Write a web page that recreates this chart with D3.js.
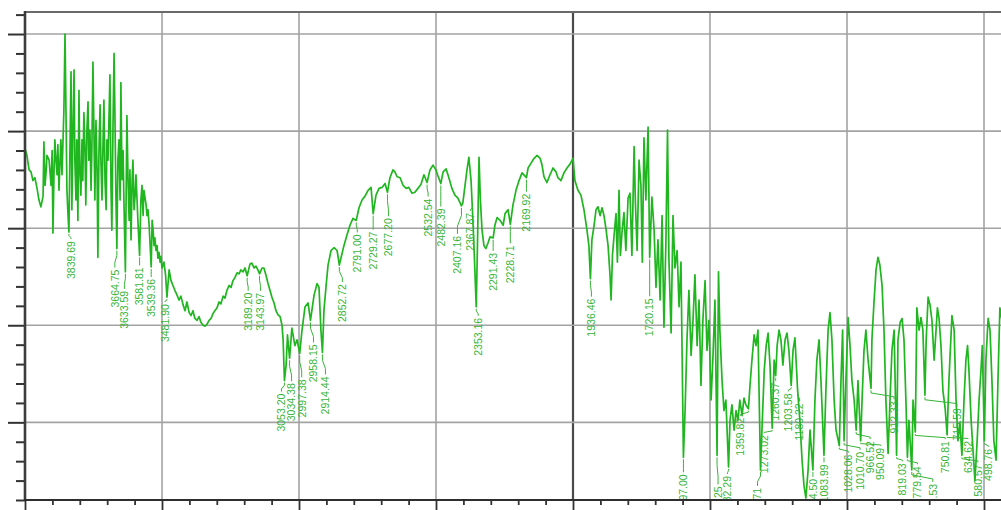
<!DOCTYPE html>
<html>
<head>
<meta charset="utf-8">
<script src="https://cdn.jsdelivr.net/npm/d3@7"></script>
<style>
  html, body { margin: 0; padding: 0; background: #fff; overflow: hidden; }
  svg { display: block; }
</style>
</head>
<body>
<svg id="chart" width="1001" height="510"></svg>
<script>
// IR spectrum: wavenumber (cm-1) against transmittance (%T)
const wavenumber = [
  4000,3993,3985,3978,3971,3964,3956,3949,3942,3934,3931,3927,3923,3920,3912,3905,3901,3898,3894,3891,
  3887,3883,3880,3876,3872,3869,3865,3858,3854,3850,3847,3843,3839.69,3836,3832,3829,3825,3821,3818,3814,
  3811,3807,3803,3800,3796,3792,3789,3785,3781,3778,3774,3770,3767,3763,3759,3756,3752,3748,3745,3741,
  3737,3734,3730,3726,3723,3719,3715,3712,3708,3704,3701,3697,3690,3686,3683,3679,3675,3672,3668,3664.75,
  3661,3657,3653,3650,3646,3642,3639,3633.59,3628,3624,3620,3617,3613,3609,3606,3602,3598,3595,3591,3588,
  3581.81,3577,3573,3569,3566,3558,3555,3551,3547,3539.36,3536,3533,3529,3526,3522,3518,3515,3511,3507,3504,
  3500,3493,3487,3481.90,3474,3467,3460,3453,3445,3438,3431,3423,3416,3409,3401,3394,3387,3380,3372,3365,
  3358,3350,3343,3336,3328,3321,3314,3307,3299,3292,3285,3277,3270,3263,3255,3248,3241,3234,3226,3219,
  3212,3204,3197,3189.20,3179,3172,3164,3157,3150,3143.97,3135,3128,3120,3113,3106,3099,3091,3084,3077,3069,
  3062,3058,3053.20,3047,3042,3034.38,3026,3015,3007,2997.38,2989,2978,2967,2958.15,2945,2934,2927,2920,2914.44,2909,
  2901,2894,2883,2872,2861,2852.72,2847,2836,2825,2814,2803,2791.00,2781,2770,2759,2748,2737,2729.27,2719,2708,
  2697,2686,2677.20,2668,2657,2650,2642,2631,2620,2609,2599,2588,2577,2566,2555,2544,2532.54,2522,2511,2500,
  2493,2482.39,2474,2463,2453,2442,2431,2420,2407.16,2402,2394,2387,2380,2372,2367.87,2363,2353.16,2349,2343,2338,
  2332,2325,2318,2310,2303,2291.43,2285,2277,2266,2255,2248,2237,2228.71,2219,2208,2197,2186,2169.92,2164,2153,
  2142,2131,2120,2113,2106,2095,2084,2073,2062,2055,2044,2033,2022,2011,2000,1993,1982,1971,1960,1949,
  1942,1936.46,1931,1923,1916,1909,1901,1894,1887,1880,1872,1865,1861,1856,1850,1843,1838,1832,1827,1821,
  1814,1807,1799,1792,1785,1777,1772,1766,1759,1752,1747,1741,1734,1726,1720.15,1712,1704,1697,1690,1682,
  1675,1668,1661,1655,1650,1642,1635,1628,1620,1613,1606,1597.00,1591,1584,1577,1569,1562,1555,1547,1540,
  1533,1526,1518,1511,1504,1496,1489,1482,1474.25,1469,1464,1456,1449,1442,1432.29,1427,1420,1412,1405,1398,
  1391,1383,1376,1369,1359.82,1354,1347,1339,1332,1325,1315.71,1309,1302,1295,1288,1281,1273.02,1266,1260.37,1255,
  1248,1241,1234,1226,1219,1212,1203.58,1197,1190,1180.22,1172,1164,1157,1150,1142,1135,1124.50,1117,1110,1102,
  1095,1083.99,1077,1069,1062,1055,1047,1040,1028.06,1022,1016,1010.70,1004,996,989,982,974,966.52,960,950.09,
  945,938,931,923,912.33,909,901,894,887,880,872,865,858,850,843,836,828,819.03,814,806,
  799,792,785,779.54,774,763.53,759,750.81,745,737,730,723,715.59,711,704,697,690,682,675,670,
  664,657,650,642,634.62,628,617,609,602,595,588,580.57,573,566,560,555,547,540,533,525,
  518,511,506,498.76,493,485,478,471,464,456,449,442,434,423,412,401
];

const transmittance = [
  88.2,87.5,86.0,85.8,84.9,85.2,84.1,82.9,82.2,83.3,88.9,84.4,85.8,87.5,87.0,84.4,88.0,79.5,86.0,89.1,
  87.0,85.5,88.6,83.9,87.0,89.1,85.5,92.2,100.0,91.1,84.0,81.3,79.6,88.0,96.1,81.9,90.1,96.3,87.0,82.9,
  89.1,80.8,94.2,86.0,83.4,89.1,84.9,91.9,88.0,82.4,90.1,93.0,87.0,90.1,83.9,88.0,97.1,89.1,82.9,91.1,
  86.0,77.0,88.0,92.7,87.0,82.9,89.1,93.2,84.9,81.9,89.1,87.0,95.8,83.9,79.8,90.1,98.0,92.2,82.9,77.9,
  87.0,89.1,82.9,95.0,85.0,88.0,82.9,75.5,91.6,85.0,80.8,86.0,78.8,85.0,87.0,81.9,83.4,85.5,82.9,80.8,
  77.2,82.9,84.4,81.3,83.9,82.4,81.3,81.9,80.3,76.0,80.8,80.0,78.2,79.0,77.7,78.2,76.9,77.5,76.5,77.1,
  75.9,76.5,75.2,72.9,75.7,74.6,74.1,73.6,73.1,72.6,73.0,72.1,71.5,72.4,71.3,71.0,71.5,70.7,70.5,70.9,
  70.3,70.0,69.9,70.1,70.5,70.7,71.2,71.5,71.8,72.4,72.2,73.0,72.8,73.6,74.1,73.9,74.6,74.9,75.4,75.3,
  75.7,75.5,75.9,75.1,76.3,76.4,75.9,76.1,75.7,75.3,75.9,75.9,75.1,74.3,73.6,72.9,72.3,71.5,71.1,70.9,
  70.0,68.5,64.3,65.9,69.0,66.6,69.7,67.9,68.5,67.1,69.5,71.9,72.3,70.5,73.1,74.3,73.9,69.5,67.2,71.5,
  74.1,76.2,77.7,78.0,77.7,76.2,76.9,78.2,79.3,80.3,81.0,80.8,82.1,82.9,83.3,83.9,84.2,81.5,83.4,84.1,
  84.2,84.6,83.7,85.2,86.0,85.8,85.3,85.2,84.4,84.1,84.2,83.6,83.7,84.1,84.5,85.5,84.7,86.0,86.5,86.0,
  85.4,84.6,85.8,86.1,85.2,84.1,83.4,83.1,82.3,82.6,84.4,86.0,87.3,84.9,82.4,79.3,71.9,77.7,87.3,82.9,
  79.8,78.2,77.9,78.5,79.1,79.0,80.3,81.1,80.8,80.3,81.5,81.9,80.4,82.4,83.9,84.9,85.7,85.2,86.2,86.7,
  87.2,87.5,87.2,86.5,85.3,84.7,85.5,86.2,85.8,85.2,84.9,85.7,86.2,86.6,87.2,84.9,83.9,83.4,81.9,79.8,
  78.2,74.8,78.8,80.3,81.9,82.2,81.3,82.1,81.3,80.0,78.2,75.2,72.6,77.2,79.3,81.5,76.5,83.9,77.2,79.6,
  81.6,77.7,83.1,83.6,77.2,88.4,82.4,77.7,87.0,84.4,76.5,89.3,82.9,90.4,77.0,83.2,79.8,73.9,78.8,72.6,
  81.3,69.8,78.5,90.1,76.9,69.2,81.3,75.9,77.7,71.9,76.5,56.4,61.2,68.5,73.6,66.9,70.5,75.2,67.9,72.6,
  63.8,70.5,74.6,67.4,70.5,62.3,66.9,72.6,56.6,75.5,69.5,64.3,61.2,62.3,55.4,60.2,61.8,59.2,61.2,60.2,
  62.3,60.7,62.5,61.8,61.4,63.8,66.4,69.0,67.9,69.5,55.1,60.2,65.4,67.9,69.2,65.9,59.4,66.4,64.8,67.9,
  69.5,68.5,65.9,68.5,69.2,67.4,63.8,67.4,68.7,63.3,60.2,56.1,53.5,52.2,55.1,59.2,55.1,62.3,66.4,68.5,
  64.3,56.6,63.3,69.5,71.3,68.5,62.3,59.2,57.6,64.3,69.5,58.1,64.3,70.8,67.9,64.3,62.3,59.2,64.3,58.1,
  62.3,67.4,69.5,66.4,63.5,68.5,72.6,75.7,77.0,76.2,74.1,69.5,62.3,56.8,62.3,67.4,69.5,56.6,68.5,70.3,
  70.7,68.5,62.3,56.4,60.2,55.1,62.3,59.0,71.8,69.5,70.8,69.5,62.8,68.5,72.9,72.1,70.5,66.4,69.5,71.8,
  70.7,67.9,63.3,61.5,58.7,64.3,71.0,69.5,62.3,58.1,60.0,56.6,62.3,66.4,67.9,65.4,60.2,57.1,54.0,58.1,
  62.3,65.4,67.9,58.1,66.4,70.7,69.5,64.3,58.1,56.1,64.3,71.8,70.5,67.4,69.5,67.9
];

// Annotated absorption bands (cm-1)
const peakLabels = [
  3839.69,3664.75,3633.59,3581.81,3539.36,3481.90,3189.20,3143.97,3053.20,3034.38,
  2997.38,2958.15,2914.44,2852.72,2791.00,2729.27,2677.20,2532.54,2482.39,2407.16,
  2367.87,2353.16,2291.43,2228.71,2169.92,1936.46,1720.15,1597.00,1474.25,1432.29,
  1359.82,1315.71,1273.02,1260.37,1203.58,1180.22,1124.50,1083.99,1028.06,1010.70,
  966.52,950.09,912.33,819.03,779.54,763.53,750.81,715.59,634.62,580.57,498.76
];
// Label placement: [sideways shift of the text, drop of the text below the band] in px
const peakLabelNudge = [
  [2,8],[-2,20],[-1,18],[0,11],[0,11],[-2,6],[1,16],[1,18],[-3,12],[2,24],
  [2,25],[3,23],[3,23],[3,18],[1,13],[0,17],[1,25],[1,15],[0,24],[-4,29],
  [-2,7],[2,10],[0,14],[0,20],[0,15],[1,19],[0,40],[0,16],[1,30],[-1,8],
  [-8,8],[-3,17],[-8,6],[0,6],[-3,7],[2,12],[0,8],[0,8],[9,8],[16,10],
  [14,10],[20,6],[23,12],[6,7],[10,8],[21,13],[30,8],[32,12],[21,5],[16,8],[4,7]
];

const gridWavenumbers = [3500, 3000, 2500, 2000, 1500, 1000, 500];
const gridTransmittance = [100, 90, 80, 70, 60];

if (wavenumber.length !== transmittance.length) {
  throw new Error("series length mismatch " + wavenumber.length + " vs " + transmittance.length);
}

const W = 1001, H = 510;
const plotLeft = 25, plotTop = 12, plotBottom = 500;

const svg = d3.select("#chart");

const x = d3.scaleLinear().domain([4000, 400]).range([plotLeft, plotLeft + 3600 * 548 / 2000]);
const y = d3.scaleLinear().domain([52, 102.268]).range([plotBottom, plotTop]);

svg.append("defs").append("clipPath").attr("id", "plotClip")
  .append("rect").attr("x", plotLeft).attr("y", plotTop)
  .attr("width", W - plotLeft).attr("height", plotBottom - plotTop);

// grid
const grid = svg.append("g");
grid.selectAll("line.v").data(gridWavenumbers).join("line")
  .attr("x1", d => x(d)).attr("x2", d => x(d))
  .attr("y1", plotTop).attr("y2", plotBottom)
  .attr("stroke", d => d === 2000 ? "#4a4a4a" : "#a3a3a3")
  .attr("stroke-width", d => d === 2000 ? 2.2 : 1.6);
grid.selectAll("line.h").data(gridTransmittance).join("line")
  .attr("x1", plotLeft).attr("x2", W)
  .attr("y1", d => y(d)).attr("y2", d => y(d))
  .attr("stroke", "#a3a3a3").attr("stroke-width", 1.6);
// top frame
svg.append("line").attr("x1", plotLeft).attr("x2", W).attr("y1", plotTop).attr("y2", plotTop)
  .attr("stroke", "#6a6a6a").attr("stroke-width", 2);

const plot = svg.append("g").attr("clip-path", "url(#plotClip)");

const points = wavenumber.map((w, i) => ({ w, t: transmittance[i] }));
plot.append("path")
  .datum(points)
  .attr("fill", "none")
  .attr("stroke", "#20b620")
  .attr("stroke-width", 1.7)
  .attr("stroke-linejoin", "round")
  .attr("d", d3.line().x(d => x(d.w)).y(d => y(d.t)));

// band annotations
const green = "#36b436";
peakLabels.forEach((w, k) => {
  const i = wavenumber.findIndex(v => Math.abs(v - w) < 1e-6);
  if (i < 0) return;
  const px = x(w), py = y(transmittance[i]);
  const [shift, gap] = peakLabelNudge[k];
  const tx = px + shift;
  const pts = [[px, py + 2], [px, py + 1 + gap * 0.3], [tx, py + gap * 0.7], [tx, py + gap - 1]];
  plot.append("path")
    .attr("d", d3.line()(pts))
    .attr("fill", "none").attr("stroke", green).attr("stroke-width", 1);
  plot.append("text")
    .attr("transform", `translate(${tx + 3.8},${py + gap + 1}) rotate(-90)`)
    .attr("text-anchor", "end")
    .attr("font-family", "'Liberation Sans', Arial, sans-serif")
    .attr("font-size", 10.5)
    .attr("fill", green)
    .text(w.toFixed(2));
});

// axes
const yMinor = d3.range(52, 103, 2).filter(v => v % 10 !== 0);
const yAxisMinor = d3.axisLeft(y).tickValues(yMinor).tickSize(9).tickFormat("");
const yAxisMajor = d3.axisLeft(y).tickValues(gridTransmittance).tickSize(17).tickFormat("");
[yAxisMinor, yAxisMajor].forEach(ax => {
  const g = svg.append("g").attr("transform", `translate(${plotLeft},0)`).call(ax);
  g.select(".domain").remove();
  g.selectAll(".tick line").attr("stroke", "#333").attr("stroke-width", 2);
});

const xMinor = d3.range(4000, 399, -100).filter(v => v % 500 !== 0);
const xAxisMinor = d3.axisBottom(x).tickValues(xMinor).tickSize(5).tickFormat("");
const xAxisMajor = d3.axisBottom(x).tickValues([4000, ...gridWavenumbers]).tickSize(10).tickFormat("");
[xAxisMinor, xAxisMajor].forEach(ax => {
  const g = svg.append("g").attr("transform", `translate(0,${plotBottom})`).call(ax);
  g.select(".domain").remove();
  g.selectAll(".tick line").attr("stroke", "#333").attr("stroke-width", 1.8);
});

svg.append("line").attr("x1", plotLeft).attr("x2", plotLeft).attr("y1", plotTop - 1).attr("y2", plotBottom + 1)
  .attr("stroke", "#3c3c3c").attr("stroke-width", 2.6);
svg.append("line").attr("x1", plotLeft - 1).attr("x2", W).attr("y1", plotBottom).attr("y2", plotBottom)
  .attr("stroke", "#2e2e2e").attr("stroke-width", 2);
</script>
</body>
</html>
